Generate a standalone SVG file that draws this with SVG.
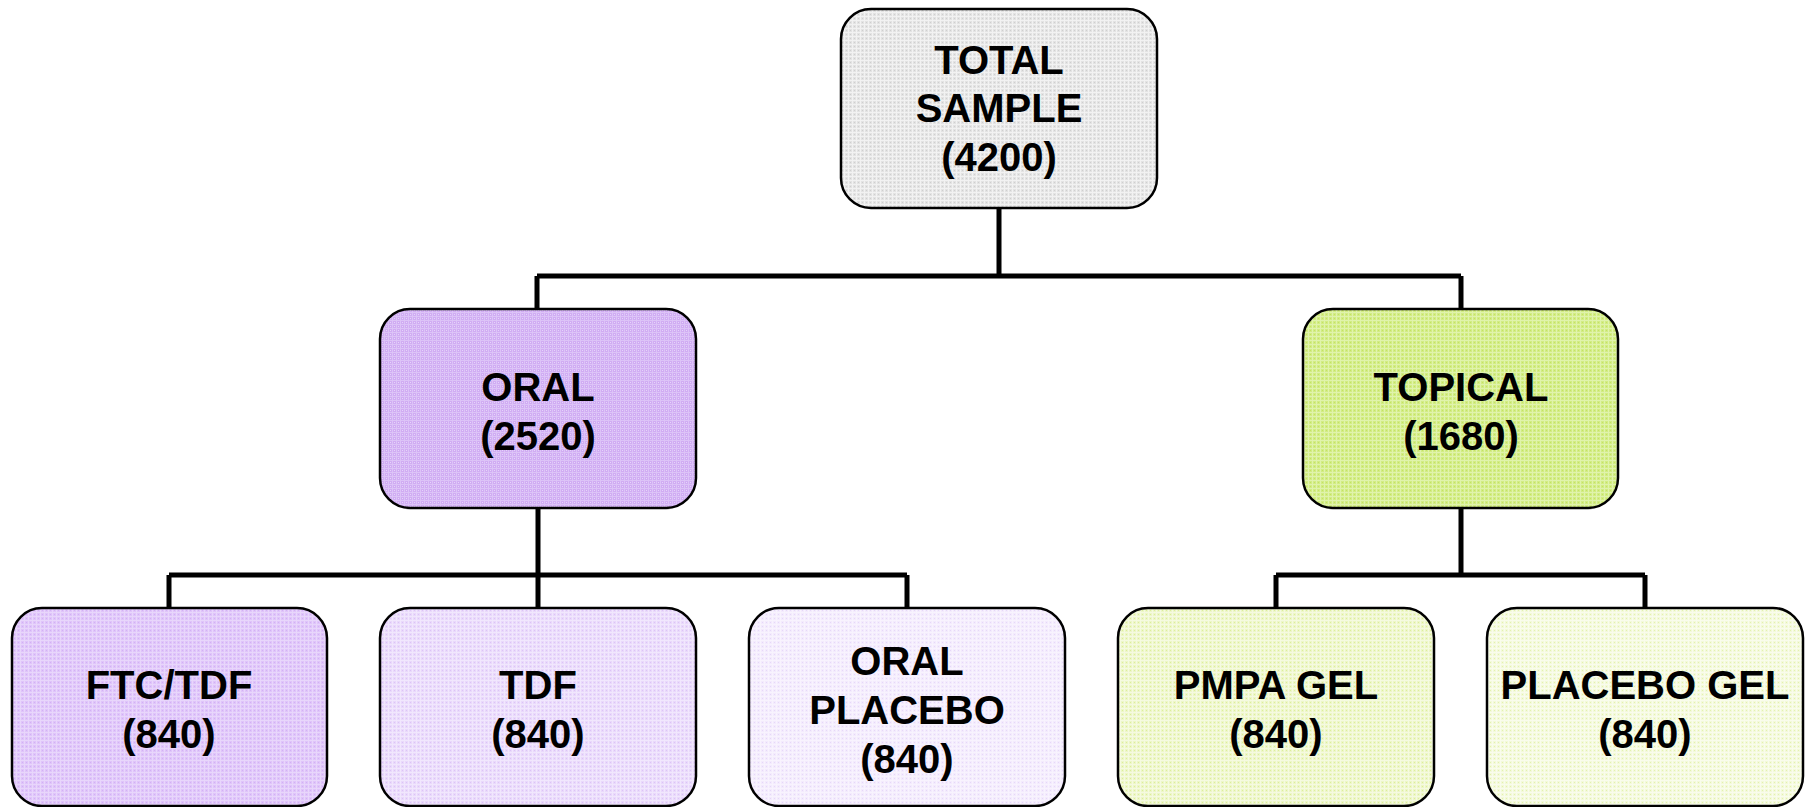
<svg xmlns="http://www.w3.org/2000/svg" width="1810" height="807" viewBox="0 0 1810 807">
<defs>
<style>
.box{stroke:#000;stroke-width:2.5}
.t{font-family:"Liberation Sans",Arial,sans-serif;font-weight:bold;font-size:40px;text-anchor:middle;fill:#000}
.c{fill:none;stroke:#000;stroke-width:5;stroke-linecap:butt;stroke-linejoin:miter}
</style>
<pattern id="pGray" width="4" height="4" patternUnits="userSpaceOnUse"><rect width="4" height="4" fill="#e3e3e3"/><rect width="4" height="1" fill="#f2f2f2"/><rect width="1" height="4" fill="#f2f2f2"/><rect x="2" y="2" width="1" height="1" fill="#cfcfcf"/></pattern>
<pattern id="pOral" width="4" height="4" patternUnits="userSpaceOnUse"><rect width="4" height="4" fill="#d0acf3"/><rect width="4" height="1" fill="#dcc3f7"/><rect width="1" height="4" fill="#dcc3f7"/><rect x="2" y="2" width="1" height="1" fill="#e6d4fa"/></pattern>
<pattern id="pTop" width="4" height="4" patternUnits="userSpaceOnUse"><rect width="4" height="4" fill="#d2ec84"/><rect width="4" height="1" fill="#e0f3ac"/><rect width="1" height="4" fill="#e0f3ac"/><rect x="2" y="2" width="1" height="1" fill="#c4e264"/></pattern>
<pattern id="p1" width="4" height="4" patternUnits="userSpaceOnUse"><rect width="4" height="4" fill="#dfc4fa"/><rect width="4" height="1" fill="#e8d6fb"/><rect width="1" height="4" fill="#e8d6fb"/><rect x="2" y="2" width="1" height="1" fill="#d2b2f3"/></pattern>
<pattern id="p2" width="4" height="4" patternUnits="userSpaceOnUse"><rect width="4" height="4" fill="#e9d9fb"/><rect width="4" height="1" fill="#f1e7fd"/><rect width="1" height="4" fill="#f1e7fd"/><rect x="2" y="2" width="1" height="1" fill="#dcc4f6"/></pattern>
<pattern id="p3" width="4" height="4" patternUnits="userSpaceOnUse"><rect width="4" height="4" fill="#f3ebfd"/><rect width="4" height="1" fill="#f8f3fe"/><rect width="1" height="4" fill="#f8f3fe"/><rect x="2" y="2" width="1" height="1" fill="#e6d8f8"/></pattern>
<pattern id="p4" width="4" height="4" patternUnits="userSpaceOnUse"><rect width="4" height="4" fill="#edf6c8"/><rect width="4" height="1" fill="#f5fae0"/><rect width="1" height="4" fill="#f5fae0"/><rect x="2" y="2" width="1" height="1" fill="#dcee9a"/></pattern>
<pattern id="p5" width="4" height="4" patternUnits="userSpaceOnUse"><rect width="4" height="4" fill="#f3f9da"/><rect width="4" height="1" fill="#f9fcec"/><rect width="1" height="4" fill="#f9fcec"/><rect x="2" y="2" width="1" height="1" fill="#e3f1ae"/></pattern>
</defs>
<rect width="1810" height="807" fill="#fff"/>
<g id="connectors">
<path class="c" d="M999 208 V276 M537 276 H1461 M537 276 V309 M1461 276 V309"/>
<path class="c" d="M538 508 V575 M169 575 H907 M169 575 V608 M538 575 V608 M907 575 V608"/>
<path class="c" d="M1461 508 V575 M1276 575 H1645 M1276 575 V608 M1645 575 V608"/>
</g>
<g id="total">
<rect class="box" x="841" y="9" width="316" height="199" rx="30" fill="url(#pGray)"/>
<text class="t" x="999" y="74">TOTAL</text>
<text class="t" x="999" y="122">SAMPLE</text>
<text class="t" x="999" y="171">(4200)</text>
</g>
<g id="oral">
<rect class="box" x="380" y="309" width="316" height="199" rx="30" fill="url(#pOral)"/>
<text class="t" x="538" y="401">ORAL</text>
<text class="t" x="538" y="450">(2520)</text>
</g>
<g id="topical">
<rect class="box" x="1303" y="309" width="315" height="199" rx="30" fill="url(#pTop)"/>
<text class="t" x="1461" y="401">TOPICAL</text>
<text class="t" x="1461" y="450">(1680)</text>
</g>
<g id="ftc-tdf">
<rect class="box" x="12" y="608" width="315" height="198" rx="30" fill="url(#p1)"/>
<text class="t" x="169" y="699">FTC/TDF</text>
<text class="t" x="169" y="748">(840)</text>
</g>
<g id="tdf">
<rect class="box" x="380" y="608" width="316" height="198" rx="30" fill="url(#p2)"/>
<text class="t" x="538" y="699">TDF</text>
<text class="t" x="538" y="748">(840)</text>
</g>
<g id="oral-placebo">
<rect class="box" x="749" y="608" width="316" height="198" rx="30" fill="url(#p3)"/>
<text class="t" x="907" y="675">ORAL</text>
<text class="t" x="907" y="724">PLACEBO</text>
<text class="t" x="907" y="773">(840)</text>
</g>
<g id="pmpa-gel">
<rect class="box" x="1118" y="608" width="316" height="198" rx="30" fill="url(#p4)"/>
<text class="t" x="1276" y="699">PMPA GEL</text>
<text class="t" x="1276" y="748">(840)</text>
</g>
<g id="placebo-gel">
<rect class="box" x="1487" y="608" width="316" height="198" rx="30" fill="url(#p5)"/>
<text class="t" x="1645" y="699">PLACEBO GEL</text>
<text class="t" x="1645" y="748">(840)</text>
</g>
</svg>
